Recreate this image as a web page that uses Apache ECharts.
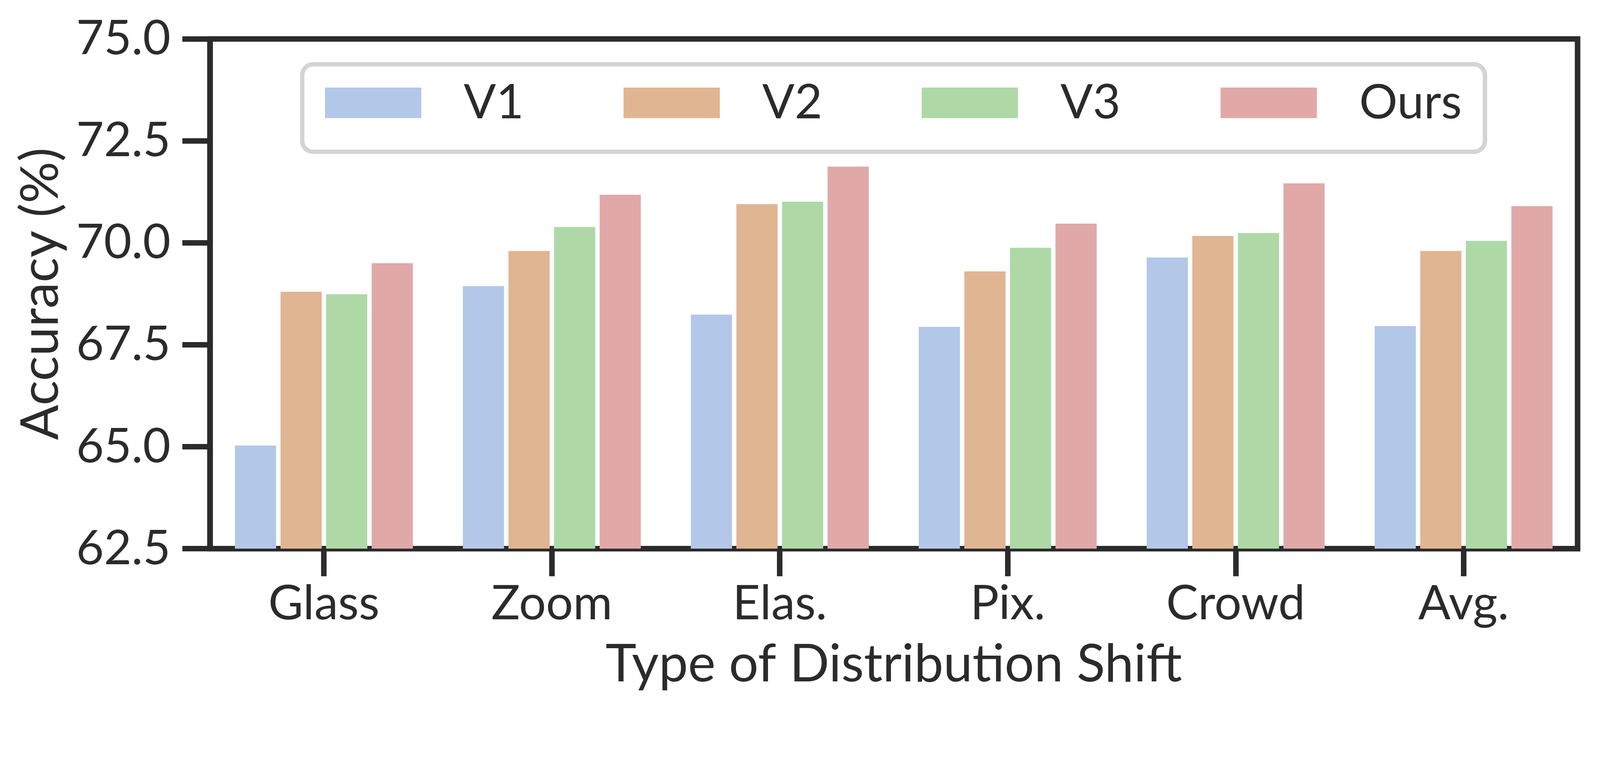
<!DOCTYPE html>
<html>
<head>
<meta charset="utf-8">
<script src="https://cdn.jsdelivr.net/npm/echarts@6/dist/echarts.min.js"></script>
<style>
html,body{margin:0;padding:0;background:#fff;overflow:hidden;}
#chart{position:absolute;left:0;top:0;}
</style>
</head>
<body>
<div id="chart"></div>
<script>
const categories = ['Glass', 'Zoom', 'Elas.', 'Pix.', 'Crowd', 'Avg.'];
const seriesNames = ['V1', 'V2', 'V3', 'Ours'];
const v1 = [65.03, 68.94, 68.24, 67.94, 69.64, 67.96];
const v2 = [68.80, 69.80, 70.95, 69.30, 70.17, 69.80];
const v3 = [68.74, 70.39, 71.01, 69.88, 70.24, 70.05];
const ours = [69.50, 71.18, 71.87, 70.47, 71.46, 70.90];
const yTicks = [62.5, 65.0, 67.5, 70.0, 72.5, 75.0];

const colors = ['#b3c7e8', '#e0b592', '#aed9a7', '#e0a9a8'];
const values = [v1, v2, v3, ours];
const ink = '#2b2b2b';
const font = 'Lato';

// design is in reference pixels (4352 x 1954); scale to the CSS viewport
const W = window.innerWidth || 4352;
const H = window.innerHeight || 1954;
const k = Math.min(W / 4352, H / 1954);
const S = v => v * k;

const el = document.getElementById('chart');
el.style.width = (4352 * k) + 'px';
el.style.height = (1954 * k) + 'px';
const chart = echarts.init(el, null, {renderer: 'canvas'});

const legendLefts = [884, 1696, 2507, 3320];
const legends = seriesNames.map((n, i) => ({
  data: [{name: n, icon: 'rect'}],
  left: S(legendLefts[i]),
  top: S(215),
  padding: 0,
  itemWidth: S(262),
  itemHeight: S(83),
  itemStyle: {borderWidth: 0},
  selectedMode: false,
  z: 5,
  textStyle: {
    fontFamily: font,
    fontSize: S(130),
    color: ink,
    lineHeight: S(83),
    padding: [0, 0, 0, S(110)]
  }
}));

const option = {
  backgroundColor: '#ffffff',
  animation: false,
  color: colors,
  textStyle: {fontFamily: font, color: ink},
  graphic: [{
    type: 'rect',
    z: 1,
    shape: {x: S(822), y: S(175), width: S(3217), height: S(238), r: S(30)},
    style: {fill: '#ffffff', stroke: '#d4d4d4', lineWidth: S(12)}
  }],
  legend: legends,
  grid: {
    left: S(571), right: S(61), top: S(106), bottom: S(461),
    show: true, borderColor: ink, borderWidth: S(15), backgroundColor: 'transparent'
  },
  xAxis: {
    type: 'category',
    data: categories,
    name: 'Type of Distribution Shift',
    nameLocation: 'middle',
    nameGap: S(244),
    nameTextStyle: {fontFamily: font, fontSize: S(142), color: ink},
    axisLine: {show: true, lineStyle: {color: ink, width: S(15)}},
    axisTick: {show: true, alignWithLabel: true, length: S(75), lineStyle: {color: ink, width: S(15)}},
    axisLabel: {fontFamily: font, fontSize: S(130), color: ink, margin: S(85)},
    splitLine: {show: false}
  },
  yAxis: {
    type: 'value',
    min: 62.5,
    max: 75,
    interval: 2.5,
    name: 'Accuracy (%)',
    nameLocation: 'middle',
    nameRotate: 90,
    nameGap: S(388),
    nameTextStyle: {fontFamily: font, fontSize: S(142), color: ink},
    axisLine: {show: true, lineStyle: {color: ink, width: S(15)}},
    axisTick: {show: true, length: S(75), lineStyle: {color: ink, width: S(15)}},
    axisLabel: {
      fontFamily: font, fontSize: S(130), color: ink, margin: S(107),
      formatter: v => (yTicks.indexOf(v) >= 0 ? v.toFixed(1) : '')
    },
    splitLine: {show: false}
  },
  series: seriesNames.map((n, i) => ({
    name: n,
    type: 'bar',
    data: values[i],
    barWidth: S(112),
    barGap: '10.7%',
    itemStyle: {color: colors[i]},
    z: 2
  }))
};

chart.setOption(option);
</script>
</body>
</html>
